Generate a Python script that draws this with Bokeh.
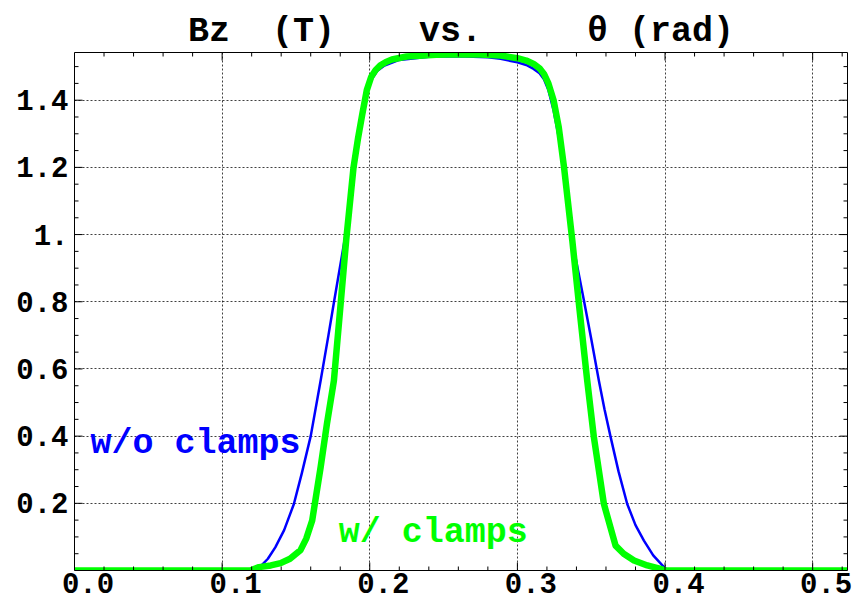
import math
from bokeh.plotting import figure
from bokeh.models import Range1d, LinearAxis, FixedTicker, Label, Grid
from bokeh.embed import file_html
from bokeh.resources import INLINE

# ---- data ----
theta_wo = [0.0, 0.05, 0.10, 0.115, 0.12, 0.126, 0.131, 0.136, 0.142, 0.1486, 0.154,
            0.160, 0.1667, 0.172, 0.1758, 0.1836, 0.189, 0.194, 0.198, 0.201, 0.205,
            0.21, 0.22, 0.24, 0.26, 0.28, 0.2886, 0.30, 0.306, 0.311, 0.315, 0.318,
            0.321, 0.3245, 0.328, 0.3316, 0.3372, 0.341, 0.345, 0.350, 0.3552,
            0.359, 0.363, 0.3685, 0.3744, 0.380, 0.3857, 0.392, 0.3993, 0.402,
            0.45, 0.5236]
bz_wo = [0.0, 0.0, 0.0, 0.0, 0.003, 0.012, 0.035, 0.069, 0.12, 0.198, 0.29,
         0.40, 0.565, 0.70, 0.80, 1.0, 1.18, 1.33, 1.42, 1.46, 1.487,
         1.503, 1.52, 1.529, 1.531, 1.528, 1.523, 1.513, 1.505, 1.493, 1.48, 1.462,
         1.43, 1.37, 1.29, 1.2, 0.982, 0.895, 0.805, 0.69, 0.565,
         0.48, 0.40, 0.295, 0.198, 0.135, 0.089, 0.045, 0.01, 0.0,
         0.0, 0.0]

theta_w = [0.0, 0.05, 0.10, 0.119, 0.125, 0.133, 0.1396, 0.146, 0.153, 0.157, 0.161,
           0.1667, 0.171, 0.1757, 0.1804, 0.184, 0.189, 0.192, 0.195, 0.198, 0.201,
           0.204, 0.207, 0.211, 0.215, 0.225, 0.245, 0.26, 0.275, 0.2886, 0.30,
           0.306, 0.311, 0.315, 0.318, 0.321, 0.3245, 0.328, 0.3316, 0.3372, 0.342,
           0.3473, 0.3518, 0.3586, 0.3665, 0.372, 0.379, 0.388, 0.397, 0.40, 0.45,
           0.5236]
bz_w = [0.0, 0.0, 0.0, 0.0, 0.01, 0.015, 0.022, 0.035, 0.06, 0.095, 0.149,
        0.307, 0.437, 0.565, 0.80, 0.982, 1.2, 1.285, 1.36, 1.43, 1.47,
        1.49, 1.503, 1.514, 1.521, 1.53, 1.535, 1.537, 1.536, 1.533, 1.525,
        1.518, 1.508, 1.495, 1.478, 1.45, 1.40, 1.32, 1.2, 0.982, 0.78,
        0.565, 0.397, 0.198, 0.074, 0.05, 0.03, 0.015, 0.005, 0.0, 0.0,
        0.0]

x_ticks = [0.0, 0.1, 0.2, 0.3, 0.4, 0.5]
x_tick_labels = ["0.0", "0.1", "0.2", "0.3", "0.4", "0.5"]
x_minor = [0.02, 0.04, 0.06, 0.08, 0.12, 0.14, 0.16, 0.18, 0.22, 0.24, 0.26, 0.28,
           0.32, 0.34, 0.36, 0.38, 0.42, 0.44, 0.46, 0.48, 0.52]
y_ticks = [0.2, 0.4, 0.6, 0.8, 1.0, 1.2, 1.4]
y_tick_labels = ["0.2", "0.4", "0.6", "0.8", "1.", "1.2", "1.4"]
y_minor = [0.05, 0.1, 0.15, 0.25, 0.3, 0.35, 0.45, 0.5, 0.55, 0.65, 0.7, 0.75,
           0.85, 0.9, 0.95, 1.05, 1.1, 1.15, 1.25, 1.3, 1.35, 1.45, 1.5]
grid_x = [0.1, 0.2, 0.3, 0.4, 0.5]
grid_y = [0.2, 0.4, 0.6, 0.8, 1.0, 1.2, 1.4]

X_MAX = math.pi / 6
Y_MAX = 1.542
FONT = "Liberation Mono"
NB = "\u00a0"
MAJ, MIN = 8, 4   # inward tick lengths (px)

p = figure(width=855, height=600, output_backend="svg", toolbar_location=None,
           x_range=Range1d(0, X_MAX), y_range=Range1d(0, Y_MAX),
           min_border_left=74, min_border_right=8, min_border_top=52,
           min_border_bottom=30, x_axis_type=None, y_axis_type=None)
p.outline_line_color = None
p.background_fill_color = None
p.border_fill_color = "white"

p.title.text = "Bz" + NB * 2 + "(T)" + NB * 4 + "vs." + NB * 5 + "\u03b8" + NB + "(rad)"
p.title.text_font = FONT
p.title.text_font_style = "bold"
p.title.text_font_size = "35px"
p.title.text_color = "black"
p.title.align = "center"
p.title.standoff = 2

# label-shift range for x labels (Mathematica-style offset labels)
shift = 13.5 / 1476.0
p.extra_x_ranges = {"lab": Range1d(-shift, X_MAX - shift)}

def frame_axis(ax, ticks):
    ax.ticker = FixedTicker(ticks=ticks, minor_ticks=[])
    ax.major_tick_in = 0
    ax.major_tick_out = 0
    ax.minor_tick_in = 0
    ax.minor_tick_out = 0
    ax.axis_line_color = "black"
    ax.axis_line_width = 1

def hide_labels(ax):
    ax.major_label_text_font_size = "1px"
    ax.major_label_text_color = None
    ax.major_label_standoff = 0

# bottom frame edge
bx = LinearAxis()
frame_axis(bx, x_ticks)
hide_labels(bx)
p.add_layout(bx, "below")

# bottom label axis (labels offset to the right as in the reference)
lx = LinearAxis(x_range_name="lab")
frame_axis(lx, x_ticks)
lx.axis_line_color = None
lx.major_label_overrides = dict(zip(x_ticks, x_tick_labels))
lx.major_label_text_font = FONT
lx.major_label_text_font_style = "bold"
lx.major_label_text_font_size = "29px"
lx.major_label_text_color = "black"
lx.major_label_standoff = 2
p.add_layout(lx, "below")

# left axis with labels
ly = LinearAxis()
frame_axis(ly, y_ticks)
ly.major_label_overrides = dict(zip(y_ticks, y_tick_labels))
ly.major_label_text_font = FONT
ly.major_label_text_font_style = "bold"
ly.major_label_text_font_size = "29px"
ly.major_label_text_color = "black"
ly.major_label_standoff = 6
p.add_layout(ly, "left")

# top and right frame edges
tx = LinearAxis()
frame_axis(tx, x_ticks)
hide_labels(tx)
p.add_layout(tx, "above")
ry = LinearAxis()
frame_axis(ry, y_ticks)
hide_labels(ry)
p.add_layout(ry, "right")

gx = Grid(dimension=0, ticker=FixedTicker(ticks=grid_x))
gy = Grid(dimension=1, ticker=FixedTicker(ticks=grid_y))
for g in (gx, gy):
    g.grid_line_color = "black"
    g.grid_line_alpha = 0.75
    g.grid_line_dash = "2 2"
    g.grid_line_width = 1
    p.add_layout(g)

p.line(theta_wo, bz_wo, line_color="#0000ff", line_width=2.5, line_join="round")
p.line(theta_w, bz_w, line_color="#00ff00", line_width=6.5, line_join="round")

# inward frame ticks (Mathematica frame style), lengths in screen pixels
tick_style = dict(line_color="black", line_width=1, length_units="screen")
for xs, L in ((x_ticks, MAJ), (x_minor, MIN)):
    p.ray(x=xs, y=[0.0] * len(xs), length=L, angle=math.pi / 2, **tick_style)
    p.ray(x=xs, y=[Y_MAX] * len(xs), length=L, angle=-math.pi / 2, **tick_style)
for ys, L in ((y_ticks, MAJ), (y_minor, MIN)):
    p.ray(x=[0.0] * len(ys), y=ys, length=L, angle=0.0, **tick_style)
    p.ray(x=[X_MAX] * len(ys), y=ys, length=L, angle=math.pi, **tick_style)

p.add_layout(Label(x=0.0108, y=0.378, text="w/o" + NB + "clamps", text_color="#0000ff",
                   text_font=FONT, text_font_style="bold", text_font_size="35px",
                   text_baseline="alphabetic"))
p.add_layout(Label(x=0.179, y=0.113, text="w/" + NB + "clamps", text_color="#00ff00",
                   text_font=FONT, text_font_style="bold", text_font_size="35px",
                   text_baseline="alphabetic"))

open("out.html", "w").write(file_html(p, INLINE))
